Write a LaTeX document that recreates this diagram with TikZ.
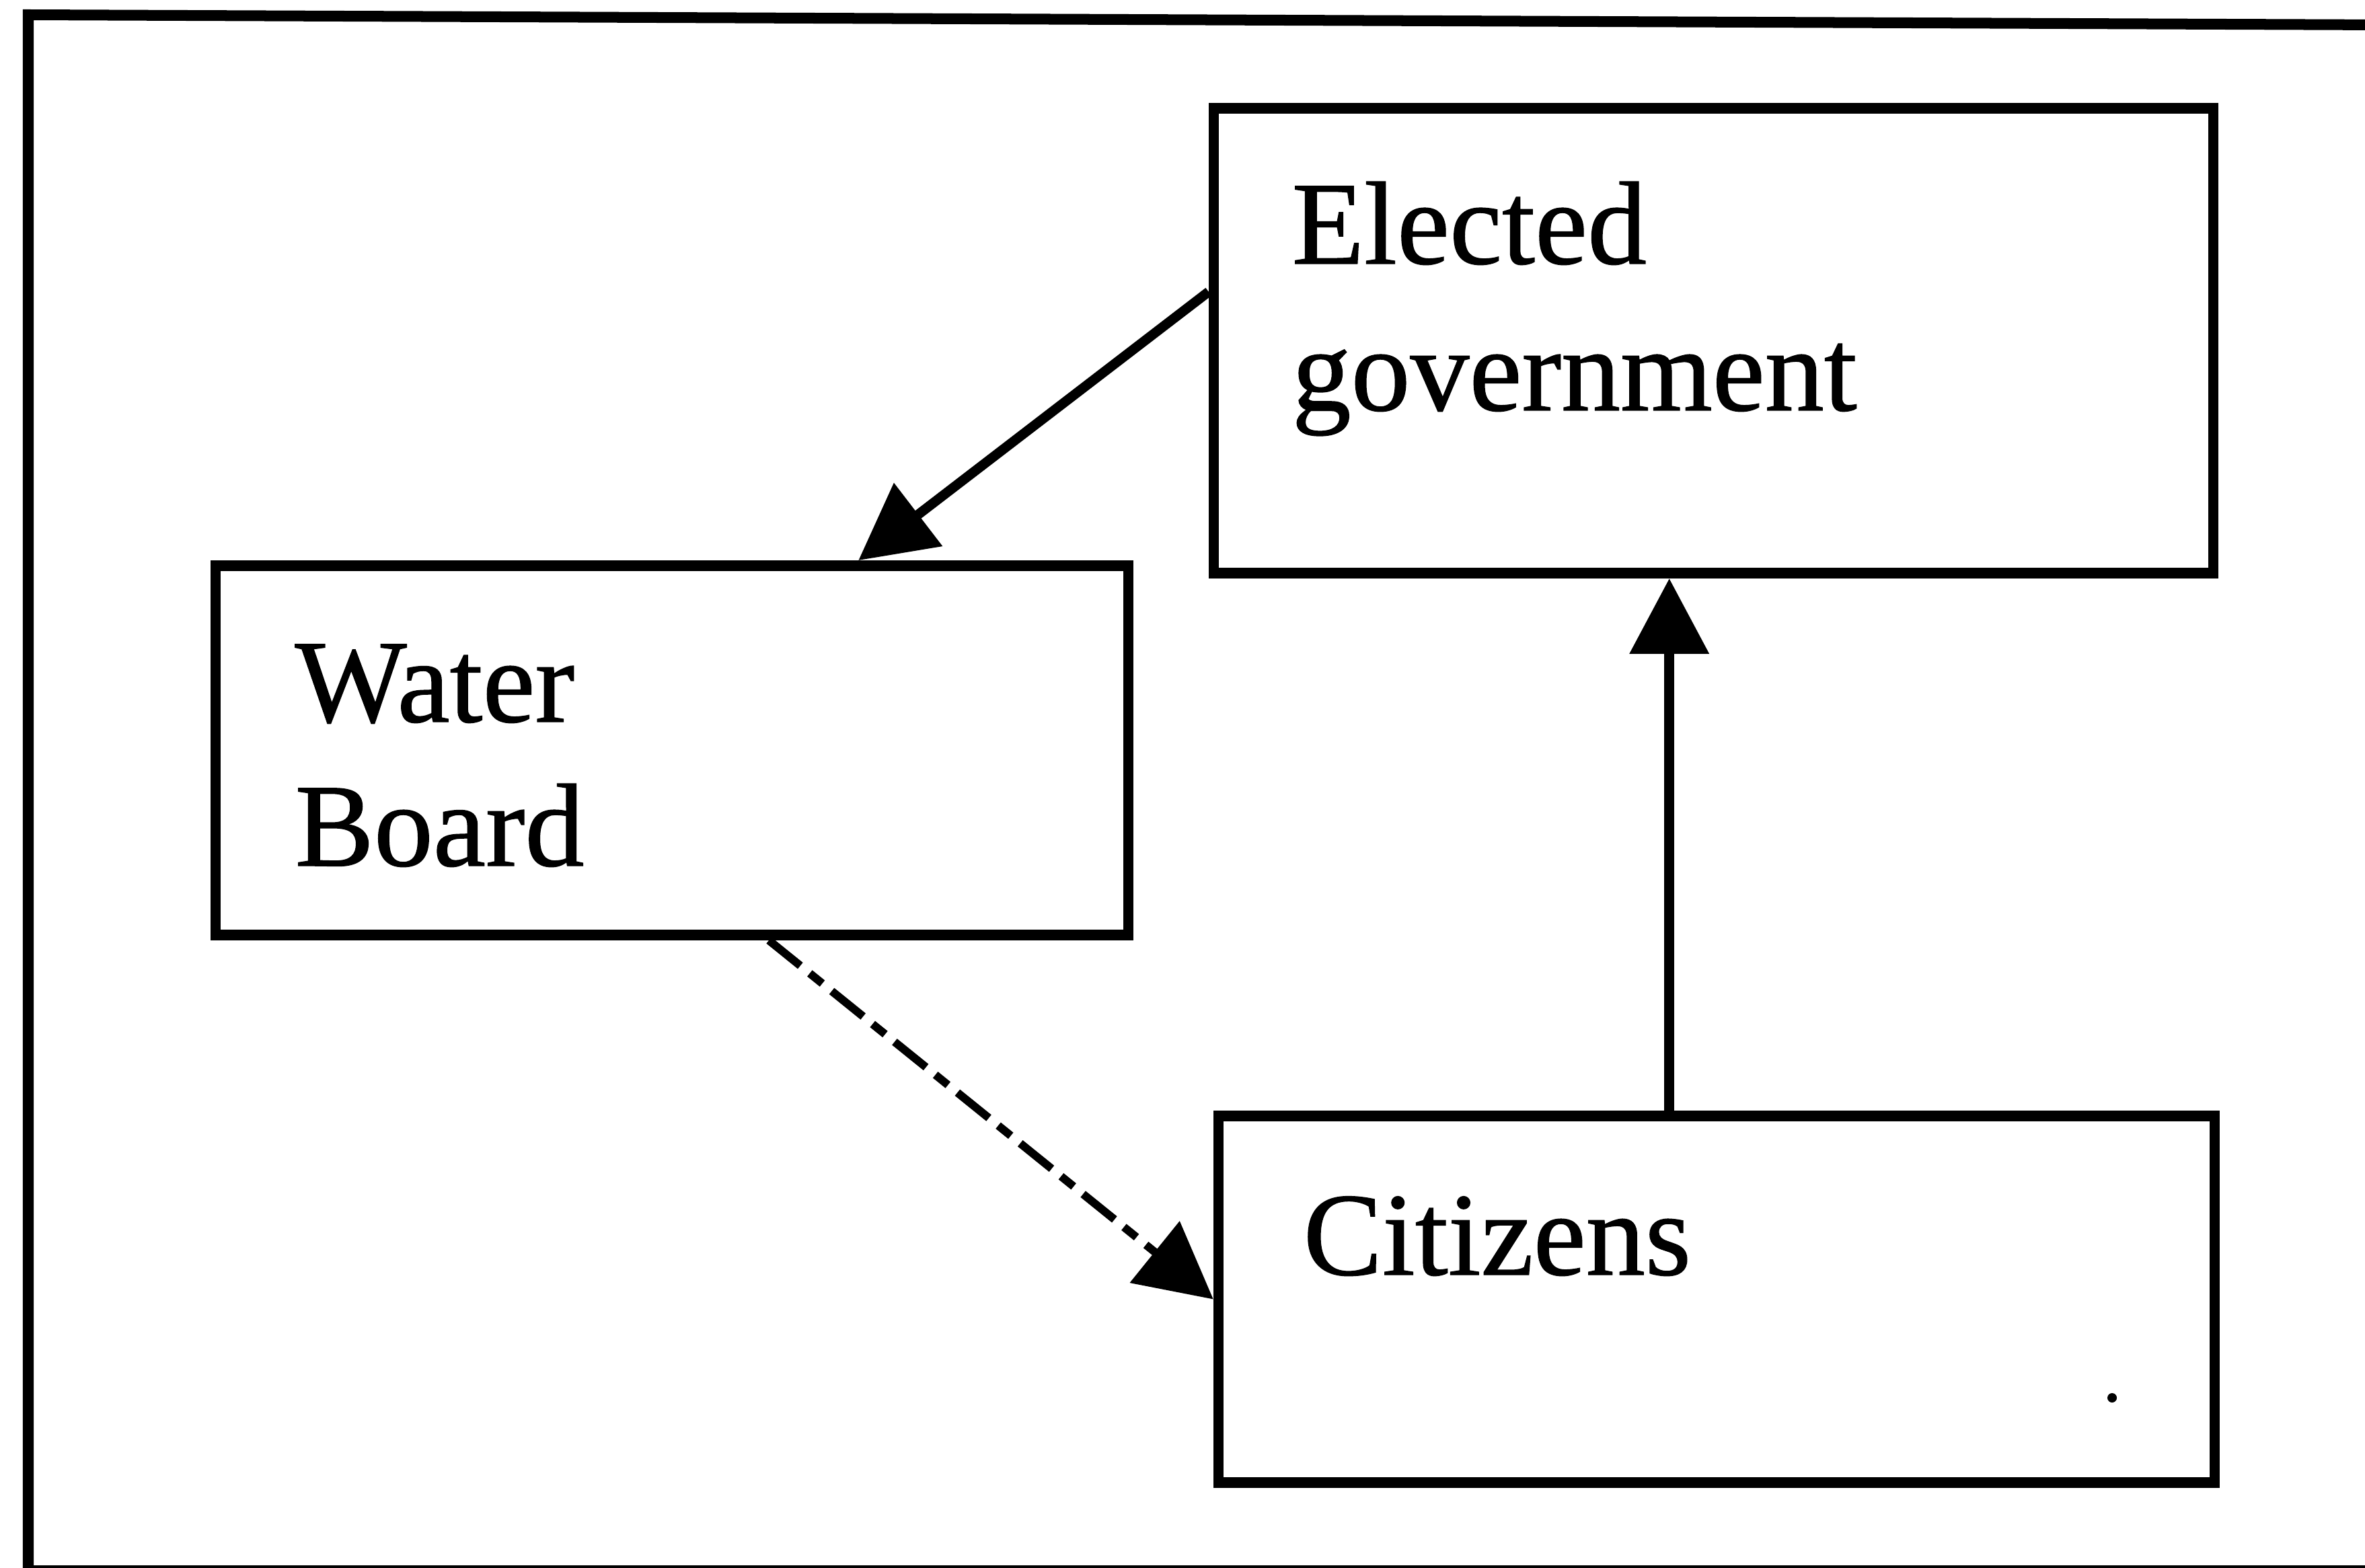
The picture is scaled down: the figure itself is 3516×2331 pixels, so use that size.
\documentclass[tikz,border=0pt]{standalone}
\usepackage{fontspec}
\setmainfont{Liberation Serif}
\newfontfamily\lblfont[FakeBold=0.8]{Liberation Serif}
\usetikzlibrary{arrows.meta,calc}
\begin{document}
\begin{tikzpicture}[x=0.01cm,y=-0.01cm,
  box/.style={draw, rectangle, line width=0.155cm, inner sep=0pt},
  lbl/.style={inner sep=0pt, anchor=base west, font=\lblfont\fontsize{50}{62}\selectfont},
  tip/.style={-{Triangle[length=1.12cm,width=1.15cm]}},
  conn/.style={tip, line width=0.145cm},
  dashdot/.style={tip, line width=0.12cm,
    dash pattern=on 0.6cm off 0.18cm on 0.24cm off 0.18cm},
  frame/.style={line width=0.16cm, line join=miter}]

% page extent
\useasboundingbox (0,0) rectangle (3516,2331);

% surrounding frame (open on the right)
\draw[frame] (3540,37) -- (42,22) -- (42,2335) -- (3540,2335);

% boxes
\node[box, minimum width=14.85cm, minimum height=6.91cm] (gov) at (2547.5,506.5) {};
\node[box, minimum width=13.56cm, minimum height=5.49cm] (wb)  at (999,1115.5) {};
\node[box, minimum width=14.80cm, minimum height=5.45cm] (cit) at (2552,1931.5) {};

% box texts
\node[lbl] (govA) at (1920,392) {Elected};
\node[lbl] (govB) at (1920,610) {government};
\node[lbl] (wbA)  at (438,1073) {Water};
\node[lbl] (wbB)  at (438,1287) {Board};
\node[lbl] (citA) at (1937,1895) {Citizens};

% small mark inside the citizens box
\fill (3140,2078) circle (0.07cm);

% connectors
\draw[conn] ($(gov.north west)!0.397!(gov.south west)$) -- ($(wb.north west)!0.702!(wb.north east)$);
\coordinate (up) at ($(cit.north west)!0.453!(cit.north east)$);
\draw[conn] (up) -- (up |- gov.south);
\draw[dashdot] ($(wb.south west)!0.605!(wb.south east)$) -- (cit.west);
\end{tikzpicture}
\end{document}
